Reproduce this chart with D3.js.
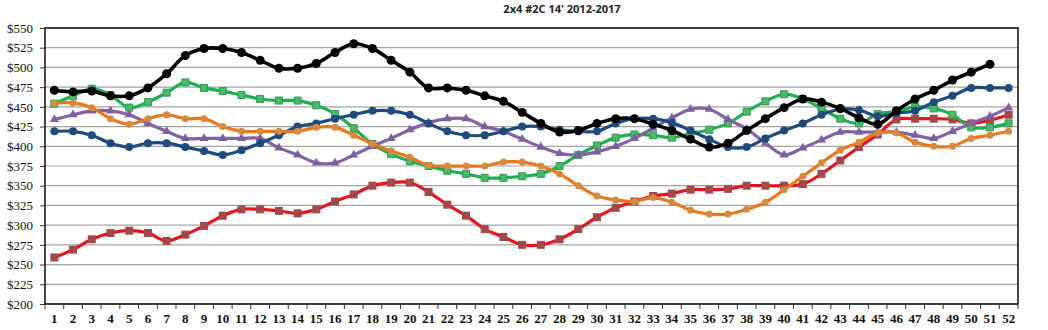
<!DOCTYPE html>
<html>
<head>
<meta charset="utf-8">
<script src="https://cdn.jsdelivr.net/npm/d3@7"></script>
<style>
  html, body { margin: 0; padding: 0; background: #fff; }
  svg { display: block; }
</style>
</head>
<body>
<svg id="chart" width="1048" height="330"></svg>
<script>
// Weekly price of 2x4 #2C 14' by year (US$)
const weeks = d3.range(1, 53);
const yTicks = [200, 225, 250, 275, 300, 325, 350, 375, 400, 425, 450, 475, 500, 525, 550];

const prices2012 = [259,269,282,290,293,290,280,288,299,312,320,320,318,315,320,330,339,350,354,354,342,326,312,295,285,275,275,282,295,310,322,330,337,340,345,345,346,350,350,350,352,365,382,399,415,434,435,435,434,429,433,440];
const prices2013 = [454,464,473,465,449,456,468,481,474,470,465,460,458,458,452,441,423,403,390,381,375,369,365,360,360,362,365,375,389,401,411,415,414,411,416,421,429,444,457,466,460,448,435,429,441,444,450,448,440,424,424,429];
const prices2014 = [419,419,414,404,399,404,404,399,394,389,395,404,414,425,429,435,440,445,445,440,429,419,414,414,419,425,425,421,419,419,429,435,435,430,420,409,399,399,410,420,429,440,447,446,438,442,445,456,464,474,474,474];
const prices2015 = [455,455,449,435,428,435,440,435,435,425,419,419,419,419,424,424,414,403,394,386,376,375,375,375,380,380,375,365,350,337,332,330,335,329,319,314,314,320,329,345,362,379,395,405,417,417,405,400,400,410,414,419];
const prices2016 = [434,440,445,445,440,429,419,410,410,410,410,410,398,389,379,379,389,400,410,421,430,435,435,425,419,409,399,391,389,393,400,410,423,436,447,447,434,422,404,389,398,408,418,418,418,418,414,410,419,429,438,449];
const prices2017 = [471,469,470,464,464,474,492,515,524,524,519,509,499,499,505,519,530,524,509,494,474,474,471,464,457,443,429,418,420,429,435,435,428,420,409,399,404,420,435,449,460,456,448,436,428,445,460,471,484,494,504];

const series = [
  { values: prices2012, line: "#e8121c", marker: "#a0484a", edge: "none", shape: "square", size: 8, width: 3.2 },
  { values: prices2013, line: "#1fae55", marker: "#4cb86a", edge: "#2e9a4e", shape: "square", size: 7, width: 3.2 },
  { values: prices2016, line: "#8064a2", marker: "#7d5f9f", edge: "none", shape: "triangle", size: 8, width: 3.2 },
  { values: prices2014, line: "#1f4a7c", marker: "#1f4a7c", edge: "none", shape: "circle", size: 8, width: 3.2 },
  { values: prices2015, line: "#e8771f", marker: "#d48a40", edge: "none", shape: "circle", size: 7, width: 3.2 },
  { values: prices2017, line: "#000000", marker: "#000000", edge: "none", shape: "circle", size: 9, width: 3.6 }
];

const svg = d3.select("#chart");
const plotLeft = 45, plotRight = 1018, plotTop = 28, plotBottom = 304;

const x = d3.scaleBand().domain(weeks).range([plotLeft, plotRight]).padding(0);
const y = d3.scaleLinear().domain([200, 550]).range([plotBottom, plotTop]);
const cx = w => x(w) + x.bandwidth() / 2;

// horizontal gridlines
svg.append("g")
  .selectAll("line")
  .data(yTicks)
  .join("line")
  .attr("x1", plotLeft).attr("x2", plotRight)
  .attr("y1", d => y(d)).attr("y2", d => y(d))
  .attr("stroke", "#a3a3a3")
  .attr("stroke-width", 1.2);

// plot frame
svg.append("rect")
  .attr("x", plotLeft).attr("y", plotTop)
  .attr("width", plotRight - plotLeft).attr("height", plotBottom - plotTop)
  .attr("fill", "none")
  .attr("stroke", "#1a1a1a")
  .attr("stroke-width", 1.6);

// y axis
const yAxis = d3.axisLeft(y).tickValues(yTicks).tickFormat(d => "$" + d).tickSize(5).tickPadding(7);
const gy = svg.append("g").attr("transform", `translate(${plotLeft},0)`).call(yAxis);
gy.select(".domain").remove();
gy.selectAll(".tick line").attr("stroke", "#333");
gy.selectAll("text")
  .attr("font-family", "'Liberation Serif', serif")
  .attr("font-size", 13)
  .attr("fill", "#111");

// x axis: ticks between weeks, labels centred under each week
svg.append("g")
  .selectAll("line")
  .data(weeks.concat([null]))
  .join("line")
  .attr("x1", d => d === null ? plotRight : x(d))
  .attr("x2", d => d === null ? plotRight : x(d))
  .attr("y1", plotBottom).attr("y2", plotBottom + 5)
  .attr("stroke", "#333");

const xAxis = d3.axisBottom(x).tickSize(0).tickPadding(10);
const gx = svg.append("g").attr("transform", `translate(0,${plotBottom})`).call(xAxis);
gx.select(".domain").remove();
gx.selectAll("text")
  .attr("font-family", "'Liberation Serif', serif")
  .attr("font-size", 13)
  .attr("font-weight", "bold")
  .attr("fill", "#111");

// title
svg.append("text")
  .attr("x", 562).attr("y", 13)
  .attr("text-anchor", "middle")
  .attr("font-family", "'Open Sans', sans-serif")
  .attr("font-weight", "bold")
  .attr("font-size", 11)
  .attr("fill", "#222")
  .text("2x4 #2C 14' 2012-2017");

// series lines and markers
const lineGen = d3.line()
  .x((d, i) => cx(weeks[i]))
  .y(d => y(d))
  .curve(d3.curveCatmullRom.alpha(0.5));

const symbolFor = { square: d3.symbolSquare, circle: d3.symbolCircle, triangle: d3.symbolTriangle };
const areaFactor = { square: 1, circle: 0.785, triangle: 0.55 };

series.forEach(s => {
  const g = svg.append("g");
  g.append("path")
    .datum(s.values)
    .attr("d", lineGen)
    .attr("fill", "none")
    .attr("stroke", s.line)
    .attr("stroke-width", s.width)
    .attr("stroke-linejoin", "round")
    .attr("stroke-linecap", "round");
  const sym = d3.symbol().type(symbolFor[s.shape]).size(s.size * s.size * areaFactor[s.shape]);
  g.selectAll("path.m")
    .data(s.values)
    .join("path")
    .attr("class", "m")
    .attr("d", sym)
    .attr("transform", (d, i) => `translate(${cx(weeks[i])},${y(d)})`)
    .attr("fill", s.marker)
    .attr("stroke", s.edge)
    .attr("stroke-width", 1);
});
</script>
</body>
</html>
